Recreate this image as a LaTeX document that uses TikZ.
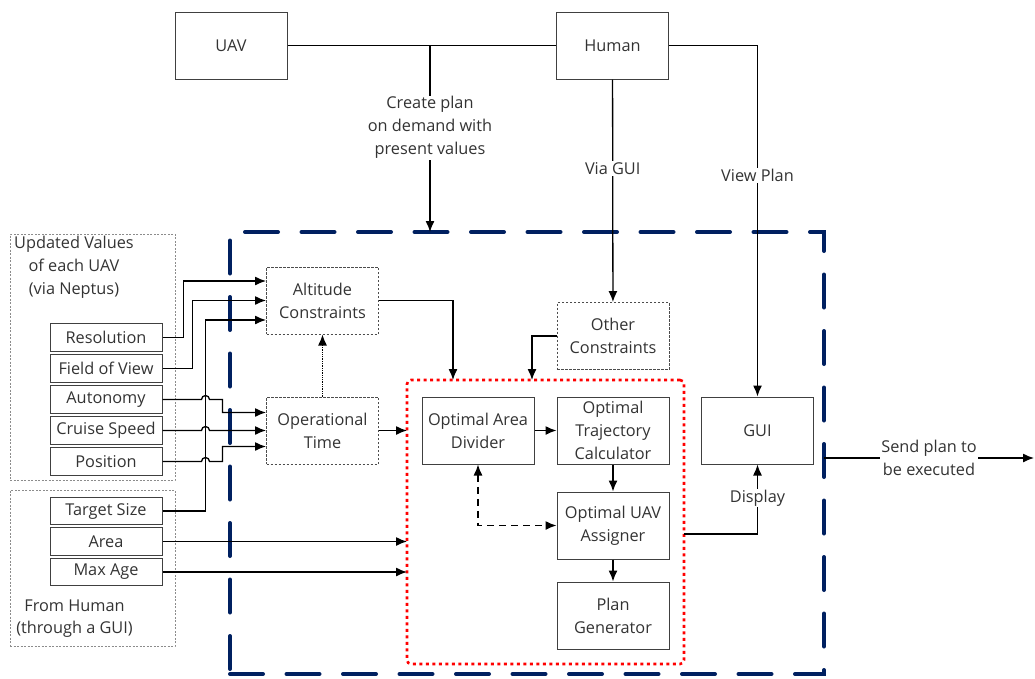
\documentclass[tikz,border=0pt]{standalone}
\usepackage{fontspec}
\setmainfont{Open Sans}
\usetikzlibrary{arrows.meta, positioning, calc}
\definecolor{navy}{RGB}{0,32,96}

\begin{document}
\begin{tikzpicture}[
    x=1pt, y=-1pt,
    font=\fontsize{16.3}{22.8}\selectfont,
    text=black!80,
    node distance=2.5pt,
    block/.style={draw=black!75, line width=1pt, align=center, minimum width=112pt, minimum height=67pt, inner sep=0pt},
    soft/.style={block, draw=black!70, dash pattern=on 2.5pt off 1.5pt},
    input/.style={draw=black!75, line width=1pt, align=center, minimum width=112pt, minimum height=27.5pt, inner sep=0pt},
    group/.style={draw=black!45, line width=0.7pt, dash pattern=on 2pt off 1.5pt, inner sep=0pt},
    system/.style={draw=navy, line width=4pt, dash pattern=on 33pt off 23.5pt, line cap=round, minimum width=594pt, minimum height=442pt, outer sep=0pt},
    core/.style={draw=red, line width=2.6pt, dash pattern=on 3pt off 3.5pt, rounded corners=4pt, minimum width=277pt, minimum height=284pt, outer sep=0pt},
    arrow/.style={-{Latex[length=11pt, width=9pt]}, line width=1.3pt},
    tag/.style={fill=white, align=center, inner sep=1pt}
]
\useasboundingbox (0,0) rectangle (1035,678);

\node[system] (sys) at (527,453) {};
\node[core] (core) at (545.5,522) {};

\node[block] (uav) at (231,45.5) {UAV};
\node[block] (human) at (612.5,45.5) {Human};

\node[group, minimum width=165pt, minimum height=246pt] (updgrp) at (92.5,357) {};
\node[align=center, anchor=north] (updtxt) at (74,233) {Updated Values\\of each UAV\\(via Neptus)};
\node[input] (res) at (106,337.5) {Resolution};
\node[input, below=of res] (fov) {Field of View};
\node[input, below=of fov] (aut) {Autonomy};
\node[input, below=of aut] (cru) {Cruise Speed};
\node[input, below=of cru] (pos) {Position};

\node[group, minimum width=165pt, minimum height=156pt] (humgrp) at (92.5,568) {};
\node[input] (tgt) at (106,511) {Target Size};
\node[input, below=2pt of tgt] (area) {Area};
\node[input, below=2pt of area] (maxage) {Max Age};
\node[align=center, anchor=north] (humtxt) at (74.5,596) {From Human\\(through a GUI)};

\node[soft] (alt) at (322.5,300.5) {Altitude\\Constraints};
\node[soft] (optime) at (322.5,430.5) {Operational\\Time};
\node[soft] (other) at (613,336) {Other\\Constraints};

\node[block] (oad) at (478,430.5) {Optimal Area\\Divider};
\node[block] (otc) at (613,430.5) {Optimal\\Trajectory\\Calculator};
\node[block] (oua) at (613,525.5) {Optimal UAV\\Assigner};
\node[block] (plan) at (613,615.5) {Plan\\Generator};
\node[block] (gui) at (757.5,430.5) {GUI};

\coordinate (split) at (430,45.5);
\coordinate (exec) at (1034,458);

\draw[line width=1.3pt] (uav) -- (human);
\draw[arrow] (split) -- node[tag, pos=0.44] {Create plan\\on demand with\\present values} (split |- sys.north);
\draw[arrow] (human) -- node[tag, pos=0.4] {Via GUI} (other);
\draw[arrow] (human.east) -| node[tag, pos=0.685] {View Plan} (gui.north);

\draw[arrow] (res.east) -- ++(21,0) |- ([yshift=19.5pt]alt.west);
\draw[arrow] (fov.east) -- ++(30,0) |- (alt.west);
\draw[arrow] (tgt.east) -- ++(43,0) |- ([yshift=-19.5pt]alt.west);
\draw[arrow] (aut.east) -- ++(39,0) arc[start angle=180, end angle=0, radius=4pt] -- ++(13,0) |- ([yshift=18pt]optime.west);
\draw[arrow] (cru.east) -- ++(39,0) arc[start angle=180, end angle=0, radius=4pt] -- (optime.west);
\draw[arrow] (pos.east) -- ++(39,0) arc[start angle=180, end angle=0, radius=4pt] -- ++(13,0) |- ([yshift=-16pt]optime.west);
\draw[arrow, densely dotted] (optime) -- (alt);

\draw[arrow] (alt.east) -| ([xshift=-92.5pt]core.north);
\draw[arrow] (other.west) -| ([xshift=-13.5pt]core.north);
\draw[arrow] (optime.east) -- (optime.east -| core.west);
\draw[arrow] (area.east) -- (area.east -| core.west);
\draw[arrow] (maxage.east) -- (maxage.east -| core.west);

\draw[arrow] (oad) -- (otc);
\draw[arrow] (otc) -- (oua);
\draw[arrow] (oua) -- (plan);
\draw[{Latex[length=11pt, width=9pt]}-{Latex[length=11pt, width=9pt]}, line width=1.3pt, dash pattern=on 7pt off 5pt] (oad.south) |- (oua.west);

\draw[arrow] ([yshift=-12pt]core.east) -| node[tag, pos=0.76] {Display} (gui.south);
\draw[arrow] (exec -| sys.east) -- node[tag] {Send plan to\\be executed} (exec);
\end{tikzpicture}
\end{document}
